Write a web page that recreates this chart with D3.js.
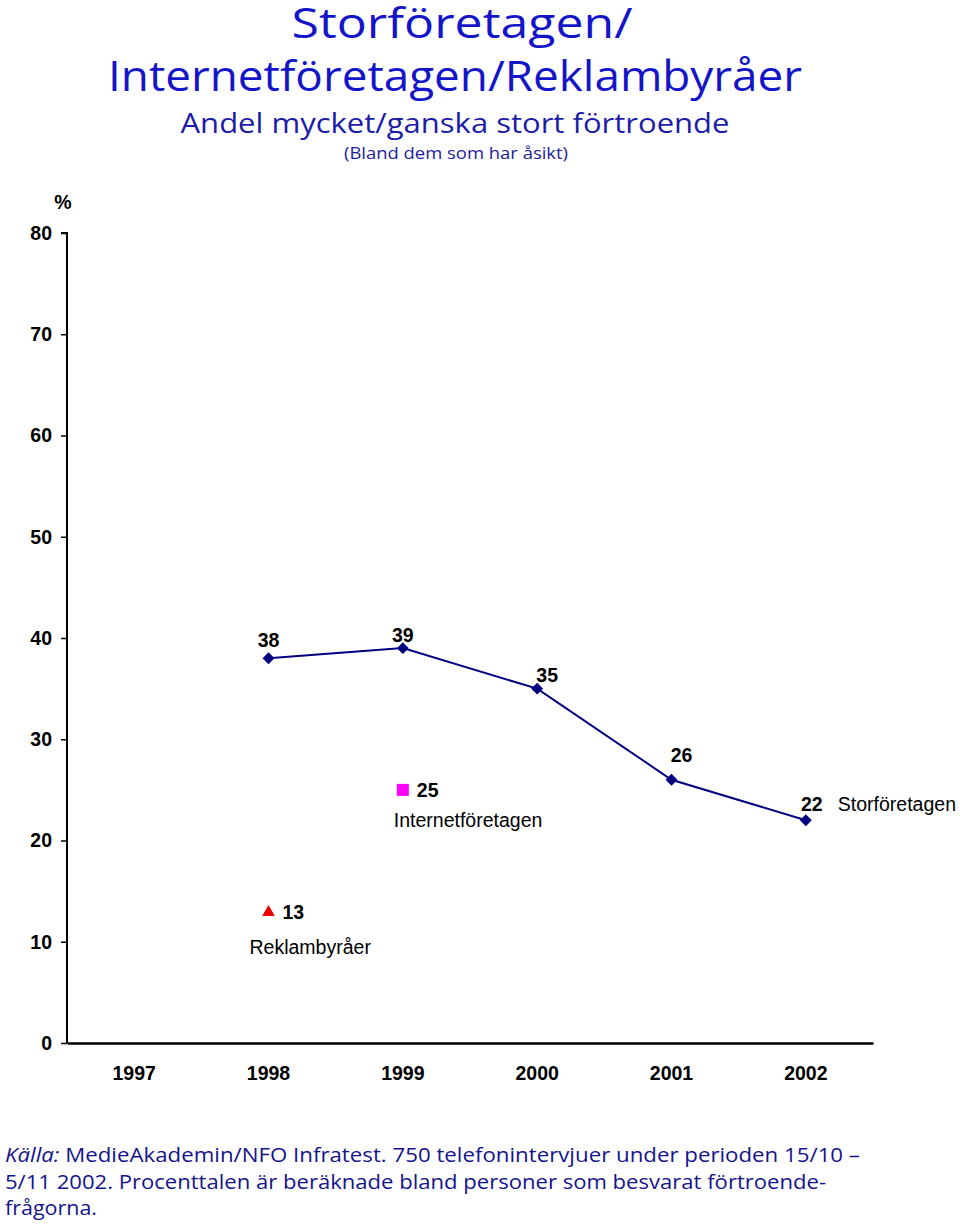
<!DOCTYPE html>
<html>
<head>
<meta charset="utf-8">
<script src="https://cdn.jsdelivr.net/npm/d3@7"></script>
<style>
  body { margin: 0; background: #fff; }
  svg { display: block; }
</style>
</head>
<body>
<div id="chart"></div>
<script>
// data
let years = ["1997", "1998", "1999", "2000", "2001", "2002"];
let storValues = [null, 38, 39, 35, 26, 22];
let internetPoint = [{year: "1999", value: 25}];
let reklamPoint = [{year: "1998", value: 13}];
let yTicks = [0, 10, 20, 30, 40, 50, 60, 70, 80];

let titleLines = ["Storföretagen/", "Internetföretagen/Reklambyråer"];
let subTitle = "Andel mycket/ganska stort förtroende";
let subSub = "(Bland dem som har åsikt)";
let footLines = [
    "MedieAkademin/NFO Infratest. 750 telefonintervjuer under perioden 15/10 –",
    "5/11 2002. Procenttalen är beräknade bland personer som besvarat förtroende-",
    "frågorna."
];

let width = 960, height = 1224;
let margin = {top: 233, left: 67, right: 87, bottom: 181};

let svg = d3.select("#chart").append("svg")
    .attr("width", width)
    .attr("height", height);

let humanist = "'Open Sans', 'Noto Sans', sans-serif";
let arial = "'Liberation Sans', Arial, sans-serif";
let fs = 19.5;

// titles
svg.append("text")
    .attr("x", 462).attr("y", 38)
    .attr("text-anchor", "middle")
    .attr("font-family", humanist)
    .attr("font-size", 42)
    .attr("fill", "#1414c8")
    .attr("textLength", 341).attr("lengthAdjust", "spacingAndGlyphs")
    .text(titleLines[0]);

svg.append("text")
    .attr("x", 455).attr("y", 91)
    .attr("text-anchor", "middle")
    .attr("font-family", humanist)
    .attr("font-size", 42)
    .attr("fill", "#1414c8")
    .attr("textLength", 694).attr("lengthAdjust", "spacingAndGlyphs")
    .text(titleLines[1]);

svg.append("text")
    .attr("x", 455).attr("y", 133)
    .attr("text-anchor", "middle")
    .attr("font-family", humanist)
    .attr("font-size", 28)
    .attr("fill", "#1c1ca8")
    .attr("textLength", 549).attr("lengthAdjust", "spacingAndGlyphs")
    .text(subTitle);

svg.append("text")
    .attr("x", 456).attr("y", 159)
    .attr("text-anchor", "middle")
    .attr("font-family", humanist)
    .attr("font-size", 17)
    .attr("fill", "#1c1ca0")
    .attr("textLength", 224).attr("lengthAdjust", "spacingAndGlyphs")
    .text(subSub);

// scales
let x = d3.scaleBand()
    .domain(years)
    .range([margin.left, width - margin.right]);

let y = d3.scaleLinear()
    .domain([0, 80])
    .range([height - margin.bottom, margin.top]);

let cx = d => x(d) + x.bandwidth() / 2;

// y axis
let yAxis = d3.axisLeft(y).tickValues(yTicks).tickSize(6).tickPadding(9);
let gy = svg.append("g")
    .attr("transform", "translate(" + margin.left + ",0)")
    .call(yAxis);
gy.select(".domain").attr("stroke", "#000").attr("stroke-width", 2).attr("d", "M-6," + y(80) + "H0V" + y(0));
gy.selectAll(".tick line").attr("stroke", "#000").attr("stroke-width", 1.5);
gy.selectAll(".tick text")
    .attr("font-family", arial).attr("font-size", fs).attr("font-weight", "bold").attr("fill", "#000");

svg.append("text")
    .attr("x", 63).attr("y", 209)
    .attr("text-anchor", "middle")
    .attr("font-family", arial).attr("font-size", fs).attr("font-weight", "bold")
    .text("%");

// x axis
let xAxis = d3.axisBottom(x).tickSize(0).tickPadding(23);
let gx = svg.append("g")
    .attr("transform", "translate(0," + y(0) + ")")
    .call(xAxis);
gx.select(".domain").attr("stroke", "#000").attr("stroke-width", 2.5);
gx.selectAll(".tick text")
    .attr("font-family", arial).attr("font-size", fs).attr("font-weight", "bold").attr("fill", "#000");

// Storföretagen line
let storData = years.map((yr, i) => ({year: yr, value: storValues[i]})).filter(d => d.value != null);

let line = d3.line()
    .x(d => cx(d.year))
    .y(d => y(d.value));

svg.append("path")
    .datum(storData)
    .attr("fill", "none")
    .attr("stroke", "#000080")
    .attr("stroke-width", 2)
    .attr("d", line);

svg.selectAll(".diamond")
    .data(storData)
    .enter().append("path")
    .attr("class", "diamond")
    .attr("transform", d => "translate(" + cx(d.year) + "," + y(d.value) + ")")
    .attr("d", d3.symbol(d3.symbolDiamond2, 90))
    .attr("fill", "#000080");

// label offsets, tuned to the reference
let labelDx = [0, 0, 10, 10, 6];
let labelDy = [-11, -6, -7, -18, -9];
svg.selectAll(".vlabel")
    .data(storData)
    .enter().append("text")
    .attr("class", "vlabel")
    .attr("x", (d, i) => cx(d.year) + labelDx[i])
    .attr("y", (d, i) => y(d.value) + labelDy[i])
    .attr("text-anchor", "middle")
    .attr("font-family", arial).attr("font-size", fs).attr("font-weight", "bold")
    .text(d => d.value);

let last = storData[storData.length - 1];
svg.append("text")
    .attr("x", cx(last.year) + 32).attr("y", y(last.value) - 9)
    .attr("font-family", arial).attr("font-size", fs)
    .text("Storföretagen");

// Internetföretagen
svg.selectAll(".square")
    .data(internetPoint)
    .enter().append("rect")
    .attr("class", "square")
    .attr("x", d => cx(d.year) - 6)
    .attr("y", d => y(d.value) - 6)
    .attr("width", 12).attr("height", 12)
    .attr("fill", "#ff00ff");

svg.selectAll(".ilabel")
    .data(internetPoint)
    .enter().append("text")
    .attr("class", "ilabel")
    .attr("x", d => cx(d.year) + 14)
    .attr("y", d => y(d.value) + 7)
    .attr("font-family", arial).attr("font-size", fs).attr("font-weight", "bold")
    .text(d => d.value);

svg.append("text")
    .attr("x", cx(internetPoint[0].year) - 9).attr("y", y(internetPoint[0].value) + 37)
    .attr("font-family", arial).attr("font-size", fs)
    .text("Internetföretagen");

// Reklambyråer
svg.selectAll(".tri")
    .data(reklamPoint)
    .enter().append("path")
    .attr("class", "tri")
    .attr("transform", d => "translate(" + cx(d.year) + "," + (y(d.value) + 1) + ")")
    .attr("d", d3.symbol(d3.symbolTriangle, 70))
    .attr("fill", "#ee0000");

svg.selectAll(".rlabel")
    .data(reklamPoint)
    .enter().append("text")
    .attr("class", "rlabel")
    .attr("x", d => cx(d.year) + 14)
    .attr("y", d => y(d.value) + 8)
    .attr("font-family", arial).attr("font-size", fs).attr("font-weight", "bold")
    .text(d => d.value);

svg.append("text")
    .attr("x", cx(reklamPoint[0].year) - 19).attr("y", y(reklamPoint[0].value) + 43)
    .attr("font-family", arial).attr("font-size", fs)
    .text("Reklambyråer");

// footer
let foot = svg.append("g")
    .attr("font-family", humanist)
    .attr("font-size", 20)
    .attr("fill", "#14148c");

let f1 = foot.append("text").attr("x", 5).attr("y", 1162)
    .attr("textLength", 855).attr("lengthAdjust", "spacingAndGlyphs");
f1.append("tspan").attr("font-style", "italic").text("Källa: ");
f1.append("tspan").text(footLines[0]);

foot.append("text").attr("x", 5).attr("y", 1189)
    .attr("textLength", 821).attr("lengthAdjust", "spacingAndGlyphs")
    .text(footLines[1]);

foot.append("text").attr("x", 5).attr("y", 1215)
    .attr("textLength", 92).attr("lengthAdjust", "spacingAndGlyphs")
    .text(footLines[2]);
</script>
</body>
</html>
